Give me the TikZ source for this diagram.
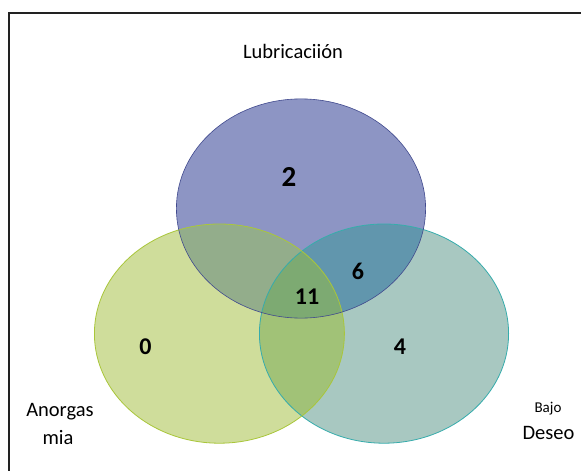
\documentclass[tikz,border=0pt]{standalone}
\usepackage{fontspec}
\setmainfont{Carlito}
\definecolor{cTop}{HTML}{8D95C4}
\definecolor{cLeft}{HTML}{CFDD9B}
\definecolor{cRight}{HTML}{A8C8C1}
\definecolor{cTL}{HTML}{93AD8B}
\definecolor{cTR}{HTML}{6196AD}
\definecolor{cLR}{HTML}{A1C277}
\definecolor{cAll}{HTML}{7DAA72}
\definecolor{eTop}{HTML}{414A8E}
\definecolor{eLeft}{HTML}{A9C63A}
\definecolor{eRight}{HTML}{36ACAC}
\definecolor{frameC}{HTML}{222222}
\tikzset{
  lbl/.style={font=\fontsize{20.5}{22}\selectfont, inner sep=0pt, align=center},
  num/.style={font=\fontsize{24}{26}\selectfont\bfseries, inner sep=0pt},
  bignum/.style={font=\fontsize{29}{31}\selectfont\bfseries, inner sep=0pt},
}
\begin{document}
\begin{tikzpicture}[x=1pt,y=-1pt]
\useasboundingbox (0,0) rectangle (581,471);
\fill[white] (0,0) rectangle (581,471);
\def\topE{(301,208.5) ellipse [x radius=124.6, y radius=109.6]}
\def\leftE{(219.4,333.6) ellipse [x radius=125, y radius=109.6]}
\def\rightE{(384,333.6) ellipse [x radius=124.6, y radius=109.6]}
% single fills
\fill[cTop] \topE;
\fill[cLeft] \leftE;
\fill[cRight] \rightE;
% pairwise
\begin{scope}\clip \topE; \fill[cTL] \leftE; \fill[cTR] \rightE; \end{scope}
\begin{scope}\clip \leftE; \fill[cLR] \rightE; \end{scope}
\begin{scope}\clip \topE; \clip \leftE; \fill[cAll] \rightE; \end{scope}
% outlines
\draw[eRight, line width=0.8pt] \rightE;
\draw[eLeft, line width=0.8pt] \leftE;
\draw[eTop, line width=0.6pt] \topE;
% frame
\draw[frameC, line width=1.2pt] (9,600) -- (9,13) -- (700,13);
% labels
\node[lbl] (lub) at (293,51) {Lubricaciión};
\node[lbl] (anor) at (60,412) {Anorgas};
\node[lbl] (mia) at (58,438) {mia};
\node[font=\fontsize{15}{17}\selectfont, inner sep=0pt] (bajo) at (548,409) {Bajo};
\node[lbl] (deseo) at (548.5,433) {Deseo};
% numbers
\node[bignum] (n2) at (289,177) {2};
\node[num] (n6) at (358,271) {6};
\node[num] (n11) at (307,297) {11};
\node[num] (n0) at (145.5,347) {0};
\node[num] (n4) at (400,347) {4};
\end{tikzpicture}
\end{document}
